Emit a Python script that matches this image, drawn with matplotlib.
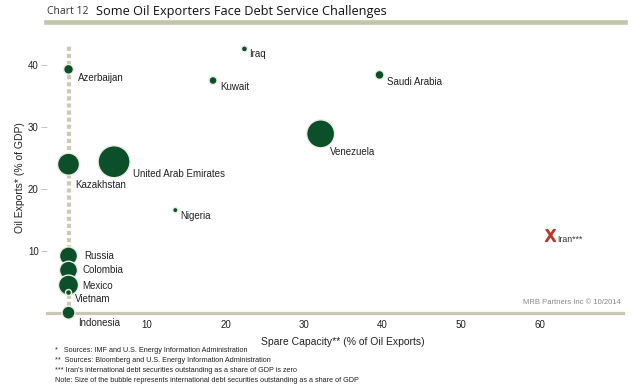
import matplotlib
matplotlib.use("Agg")
import matplotlib.pyplot as plt
from matplotlib.lines import Line2D

plt.rcParams['font.family'] = ['Liberation Sans', 'DejaVu Sans']

# ---- data ----
countries = ["Azerbaijan", "Kazakhstan", "United Arab Emirates", "Iraq", "Kuwait",
             "Nigeria", "Venezuela", "Saudi Arabia", "Russia", "Colombia",
             "Mexico", "Vietnam", "Indonesia"]
spare_capacity = [0, 0, 5.8, 22.4, 18.4, 13.6, 32.1, 39.6, 0, 0, 0, 0, 0]
oil_exports = [39.3, 24.0, 24.4, 42.6, 37.5, 16.6, 28.9, 38.4, 9.2, 6.9, 4.5, 3.3, 0.05]
debt_securities = [2.4, 12.1, 25.6, 0.9, 1.6, 0.7, 19.6, 2.0, 8.1, 8.1, 10.0, 0.9, 4.2]

iran_label = "Iran***"
iran_spare = [61.3]
iran_exports = [12.6]

x_ticks = [10, 20, 30, 40, 50, 60]
y_ticks = [10, 20, 30, 40]

# label offsets in points (layout only)
label_offsets = {
    "Azerbaijan": (7, -6), "Kazakhstan": (4.5, -15), "United Arab Emirates": (13.5, -9),
    "Iraq": (3.5, -3.5), "Kuwait": (5.5, -5), "Nigeria": (3.5, -4.5),
    "Venezuela": (7, -13), "Saudi Arabia": (5.5, -5), "Russia": (11, 0),
    "Colombia": (10, 0), "Mexico": (10, -0.5), "Vietnam": (4.3, -4.3),
    "Indonesia": (7, -7.5),
}

green = "#0c4f2b"
beige = "#c9c6b2"

fig = plt.figure(figsize=(6.4, 3.86), dpi=100)
ax = fig.add_axes([47/640, 1-313/386, 576/640, 272.8/386])
ax.set_xlim(-2.74, 70.6)
ax.set_ylim(0, 44)

# dotted vertical guide at zero spare capacity
ax.plot([0, 0], [0, 43.2], color="#cdc9b6", lw=3, ls=(0, (1, 0.7)), zorder=1,
        solid_capstyle='butt', dash_capstyle='butt')

sizes = [d * 20.7 for d in debt_securities]
ax.scatter(spare_capacity, oil_exports, s=sizes, color=green, edgecolor="#eeede2",
           linewidth=1.0, zorder=3, clip_on=False)

for name, x, y in zip(countries, spare_capacity, oil_exports):
    dx, dy = label_offsets[name]
    ax.annotate(name, (x, y), xytext=(dx, dy), textcoords="offset points",
                ha="left", va="center", fontsize=7, color="#222222", zorder=4,
                annotation_clip=False)

ax.plot(iran_spare, iran_exports, marker=r"$\mathsf{X}$", markersize=8.5,
        color="#b8392c", ls="none", zorder=4)
ax.annotate(iran_label, (iran_spare[0], iran_exports[0]), xytext=(5, -3.5),
            textcoords="offset points", ha="left", va="center", fontsize=6.3,
            color="#333333")

# axes styling
for s in ["top", "right", "left"]:
    ax.spines[s].set_visible(False)
ax.spines["bottom"].set_color(beige)
ax.spines["bottom"].set_linewidth(2.3)
ax.spines["bottom"].set_zorder(2)

ax.set_xticks(x_ticks)
ax.set_xticklabels([str(v) for v in x_ticks])
ax.set_yticks(y_ticks)
ax.set_yticklabels([str(v) for v in y_ticks])
ax.tick_params(axis="x", length=2, width=0.8, color="#d8d6c8", direction="inout",
               labelsize=7, labelcolor="#222222", pad=4)
ax.tick_params(axis="y", length=4, width=0.6, color="#bbbbbb", labelsize=7,
               labelcolor="#222222", pad=2)

ax.set_xlabel("Spare Capacity** (% of Oil Exports)", fontsize=7.5, color="#222222")
ax.xaxis.set_label_coords((343-47)/576, -(337-313)/272.8)
ax.set_ylabel("Oil Exports* (% of GDP)", fontsize=7.5, color="#222222")
ax.yaxis.set_label_coords(-(47-25)/576, (313-178)/272.8)

ax.text(621/640, 1-303/386, "MRB Partners Inc \u00a9 10/2014", transform=fig.transFigure,
        ha="right", va="center", fontsize=5.5, color="#888888")

# title
fig.text(47/640, 1-11/386, "Chart 12", ha="left", va="center", fontsize=7.5,
         color="#333333", family="Open Sans")
fig.text(96/640, 1-11/386, "Some Oil Exporters Face Debt Service Challenges",
         ha="left", va="center", fontsize=9.2, color="#111111", family="Open Sans",
         weight="medium")
fig.add_artist(Line2D([46/640, 625/640], [1-21.5/386, 1-21.5/386],
                      transform=fig.transFigure, color="#c4c3ae", lw=3.3))

# footnotes
notes = ["*   Sources: IMF and U.S. Energy Information Administration",
         "**  Sources: Bloomberg and U.S. Energy Information Administration",
         "*** Iran's international debt securities outstanding as a share of GDP is zero",
         "Note: Size of the bubble represents international debt securities outstanding as a share of GDP"]
for i, n in enumerate(notes):
    fig.text(55/640, 1-(351+9.7*i)/386, n, ha="left", va="center", fontsize=5.2,
             color="#222222")

fig.savefig("out.png", dpi=100)
